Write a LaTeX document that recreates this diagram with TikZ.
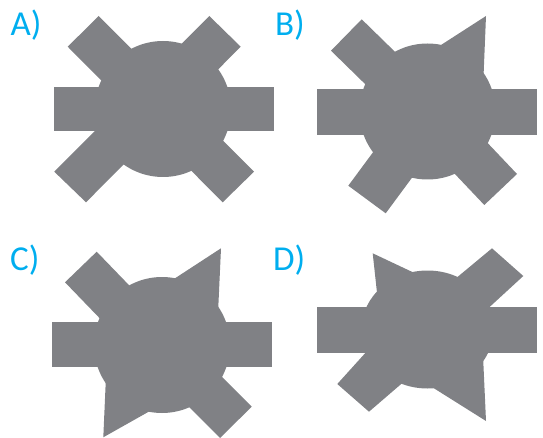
\documentclass[tikz,border=0pt]{standalone}
\usepackage{fontspec}
\setmainfont{Carlito}
\definecolor{gear}{RGB}{128,129,133}
\definecolor{tagblue}{RGB}{0,174,239}
\tikzset{
  part/.style={fill=gear},
  tag/.style={text=tagblue, anchor=base west, inner sep=0pt, font=\fontsize{35}{40}\selectfont}
}

\begin{document}
\begin{tikzpicture}[x=1pt,y=-1pt]
\useasboundingbox (0,0) rectangle (543,438);
% A
\node[tag] (labA) at (10.5,36) {A)};
\fill[part] (163,109) circle (68pt);
\fill[part] (54,87) rectangle (274,131.5);
\fill[part] (67.7,46.7)--(98.7,16)--(254,171.7)--(222.7,202.3)--cycle;
\fill[part] (209.3,16)--(240.7,46.7)--(86,202.3)--(54.3,171.7)--cycle;
% B
\node[tag] (labB) at (275,36) {B)};
\fill[part] (427.5,111.5) circle (68pt);
\fill[part] (317,89.5) rectangle (537,135);
\fill[part] (331,50.7)--(361.7,19.3)--(433.2,89.2)--(402.5,120.6)--cycle;
\fill[part] (348.3,185.7)--(385.7,213.3)--(439.2,140.9)--(401.8,113.3)--cycle;
\fill[part] (484.3,205)--(517,174)--(448.1,101.3)--(415.4,132.3)--cycle;
\fill[part] (486,16)--(418.5,59.5)--(427.5,111.5)--(482.5,101)--cycle;
% C
\node[tag] (labC) at (10,270.5) {C)};
\fill[part] (162,345) circle (68pt);
\fill[part] (52,322.3) rectangle (272,367.3);
\fill[part] (65,282.3)--(96.7,251.7)--(166.2,323.7)--(134.5,354.3)--cycle;
\fill[part] (251.7,406.7)--(220,438)--(149.3,367.3)--(181,336)--cycle;
\fill[part] (221,248.3)--(152,293.3)--(162,345)--(217,335.3)--cycle;
\fill[part] (103.3,437.3)--(106.9,355.4)--(162,345)--(169.3,400.1)--cycle;
% D
\node[tag] (labD) at (273,270.5) {D)};
\fill[part] (427.5,329.5) ellipse [x radius=66pt, y radius=59pt];
\fill[part] (317,307.3) rectangle (537,353);
\fill[part] (372.7,253.3)--(431.2,280.9)--(427.5,329.5)--(378.7,308.3)--cycle;
\fill[part] (492,248.3)--(523.3,276)--(449.7,343.7)--(415,312.3)--cycle;
\fill[part] (337.3,384)--(369,411.7)--(444.8,346.5)--(404.3,309.8)--cycle;
\fill[part] (486,421)--(412,374.5)--(427.5,329.5)--(482,333.5)--cycle;
\end{tikzpicture}
\end{document}
